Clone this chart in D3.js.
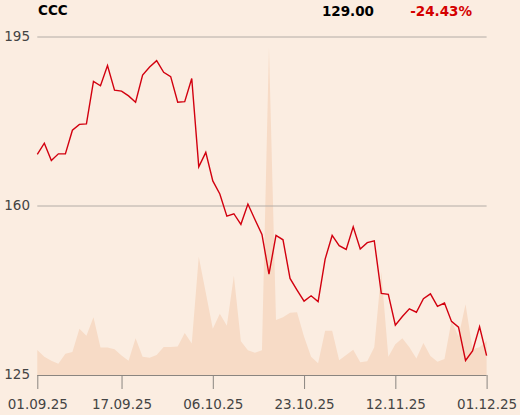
<!DOCTYPE html>
<meta charset="utf-8">
<script src="https://d3js.org/d3.v7.min.js"></script>
<style>
  body { margin: 0; background: #fbede1; }
  text { font-family: "DejaVu Sans", sans-serif; }
</style>
<div id="chart"></div>
<script>

// daily closes, 01.09.25 .. 01.12.25 (trading days)
var closes = [170.7, 173.0, 169.4, 170.8, 170.8, 175.7, 176.9, 177.0, 185.8, 184.9,
              189.1, 184.0, 183.8, 182.8, 181.5, 187.1, 188.8, 190.1, 187.7, 186.8,
              181.5, 181.6, 186.4, 168.1, 171.1, 165.2, 162.5, 157.9, 158.4, 156.2,
              160.4, 157.2, 154.1, 145.9, 153.9, 153.0, 145.0, 142.6, 140.3, 141.4,
              140.2, 149.0, 153.9, 151.8, 151.0, 155.7, 151.1, 152.4, 152.8, 141.9,
              141.7, 135.3, 137.1, 138.7, 138.0, 140.8, 141.8, 139.2, 139.9, 136.1,
              134.9, 128.0, 130.0, 135.0, 129.0];

// traded volume (relative units)
var volumes = [7.4, 5.4, 4.2, 3.3, 6.3, 6.8, 13.7, 11.6, 17.1, 8.1,
               8.1, 7.6, 5.8, 4.2, 10.9, 5.4, 5.1, 5.9, 8.3, 8.3,
               8.4, 12.4, 9.3, 35.0, 24.3, 13.7, 18.1, 14.6, 29.4, 10.0,
               7.3, 6.6, 7.3, 97.0, 16.3, 17.1, 18.4, 18.6, 11.3, 5.4,
               3.5, 13.1, 13.1, 4.4, 5.9, 7.5, 3.8, 4.1, 8.2, 30.5,
               5.4, 9.1, 10.9, 8.2, 4.9, 9.5, 5.6, 3.9, 4.7, 16.0,
               11.3, 20.9, 7.7, 8.2, 10.1];

var tickIdx = [0, 12, 25, 38, 51, 64];
var tickLabels = ["01.09.25", "17.09.25", "06.10.25", "23.10.25", "12.11.25", "01.12.25"];
var yTicks = [125, 160, 195];

var title = "CCC";
var lastValue = "129.00";
var change = "-24.43%";

var width = 520, height = 415;

var svg = d3.select("#chart")
  .append("svg")
    .attr("width", width)
    .attr("height", height);

svg.append("rect")
    .attr("width", width)
    .attr("height", height)
    .attr("fill", "#fbede1");

var x = d3.scaleLinear().domain([0, closes.length - 1]).range([37.3, 486.6]);
var y = d3.scaleLinear().domain([125, 195]).range([375, 37]);
var yVol = d3.scaleLinear().domain([0, 100]).range([375, 37]);

// volume area
var area = d3.area()
  .x(function(d, i) { return x(i); })
  .y0(yVol(0))
  .y1(function(d) { return yVol(d); });

svg.append("path")
    .datum(volumes)
    .attr("d", area)
    .attr("fill", "#f7dbc6");

// horizontal grid
svg.append("g")
  .selectAll("line")
  .data(yTicks.filter(function(d) { return d > 125; }))
  .enter()
  .append("line")
    .attr("x1", x(0))
    .attr("x2", x(closes.length - 1))
    .attr("y1", function(d) { return y(d); })
    .attr("y2", function(d) { return y(d); })
    .attr("stroke", "#b3aca6")
    .attr("stroke-width", 1);

// y labels
svg.append("g")
  .selectAll("text")
  .data(yTicks)
  .enter()
  .append("text")
    .attr("x", 30)
    .attr("y", function(d) { return y(d) - 0.5; })
    .attr("dy", "0.35em")
    .attr("text-anchor", "end")
    .style("font-size", "13.5px")
    .style("fill", "#444")
    .text(function(d) { return d; });

// x axis
var xAxis = svg.append("g")
  .attr("transform", "translate(0," + y(125) + ")")
  .call(d3.axisBottom(x)
    .tickValues(tickIdx)
    .tickSize(14)
    .tickPadding(10)
    .tickFormat(function(d, i) { return tickLabels[i]; }));

xAxis.select(".domain").attr("stroke", "#8a8580").attr("d", "M" + x(0) + ",0.5H" + x(closes.length - 1));
xAxis.selectAll(".tick line").attr("stroke", "#8a8580");
xAxis.selectAll(".tick text")
  .style("font-family", "DejaVu Sans, sans-serif")
  .style("font-size", "13.5px")
  .style("fill", "#444");

// price line
var line = d3.line()
  .x(function(d, i) { return x(i); })
  .y(function(d) { return y(d); });

svg.append("path")
    .datum(closes)
    .attr("d", line)
    .attr("fill", "none")
    .attr("stroke", "#d2000f")
    .attr("stroke-width", 1.4);

// header
svg.append("text")
    .attr("x", 38)
    .attr("y", 15)
    .style("font-size", "13.5px")
    .style("font-weight", "bold")
    .style("fill", "#000")
    .text(title);

svg.append("text")
    .attr("x", 374)
    .attr("y", 16)
    .attr("text-anchor", "end")
    .style("font-size", "13.5px")
    .style("font-weight", "bold")
    .style("fill", "#000")
    .text(lastValue);

svg.append("text")
    .attr("x", 472)
    .attr("y", 16)
    .attr("text-anchor", "end")
    .style("font-size", "13.5px")
    .style("font-weight", "bold")
    .style("fill", "#d40000")
    .text(change);

</script>
